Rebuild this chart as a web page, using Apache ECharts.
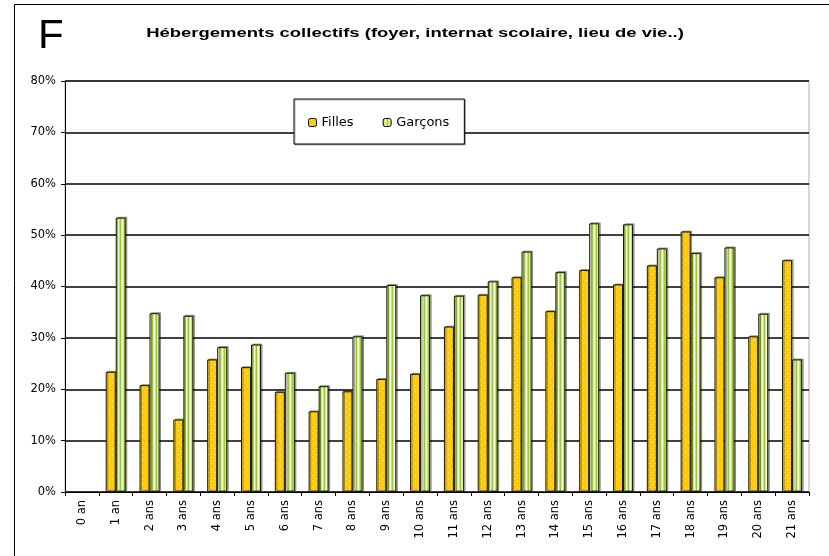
<!DOCTYPE html>
<html>
<head>
<meta charset="utf-8">
<script src="https://cdn.jsdelivr.net/npm/echarts@6/dist/echarts.min.js"></script>
<style>
  html, body {margin: 0; padding: 0; background: #fff;}
  #chart {width: 829px; height: 556px;}
</style>
</head>
<body>
<div id="chart"></div>
<script>
// tranches d'age
let ages = ['0 an', '1 an', '2 ans', '3 ans', '4 ans', '5 ans', '6 ans', '7 ans', '8 ans', '9 ans', '10 ans',
    '11 ans', '12 ans', '13 ans', '14 ans', '15 ans', '16 ans', '17 ans', '18 ans', '19 ans', '20 ans', '21 ans'];
// % filles / garcons
let filles = [null, 23.4, 20.8, 14.1, 25.8, 24.3, 19.5, 15.7, 19.6, 22.0, 23.0,
    32.2, 38.4, 41.8, 35.2, 43.2, 40.4, 44.1, 50.7, 41.8, 30.3, 45.1];
let garcons = [null, 53.4, 34.8, 34.3, 28.2, 28.7, 23.2, 20.6, 30.3, 40.3, 38.3,
    38.2, 41.0, 46.8, 42.8, 52.3, 52.1, 47.4, 46.5, 47.6, 34.7, 25.8];
let yTicks = [0, 80, 10]; // min, max, pas

// motif points blancs sur jaune
function dotPattern() {
    let c = document.createElement('canvas');
    c.width = 6;
    c.height = 6;
    let ctx = c.getContext('2d');
    ctx.fillStyle = '#FFCC00';
    ctx.fillRect(0, 0, 6, 6);
    ctx.fillStyle = '#FFF3B0';
    ctx.fillRect(1, 1, 1, 1);
    ctx.fillRect(4, 4, 1, 1);
    return c;
}
// motif rayures vertes
function stripePattern() {
    let c = document.createElement('canvas');
    c.width = 4;
    c.height = 4;
    let ctx = c.getContext('2d');
    let cols = ['#99CC33', '#D8F08A', '#F8FFE0', '#C4E46A'];
    for (let i = 0; i < 4; i++) {
        ctx.fillStyle = cols[i];
        ctx.fillRect(i, 0, 1, 4);
    }
    return c;
}

let myChart = echarts.init(document.getElementById('chart'), null, {renderer: 'canvas'});
let font = 'Liberation Sans, Arial, sans-serif';
let labelFont = 'DejaVu Sans, sans-serif';

myChart.setOption({
    animation: false,
    textStyle: {fontFamily: labelFont},
    graphic: [
        {
            type: 'rect',
            shape: {x: 14.5, y: 4.5, width: 900, height: 700},
            style: {fill: 'none', stroke: '#000', lineWidth: 1},
            silent: true
        },
        {
            type: 'text',
            x: 38,
            y: 17,
            scaleX: 1.05,
            style: {text: 'F', font: '40px ' + font, fill: '#000'}
        },
        {
            type: 'text',
            x: 415,
            y: 33,
            scaleX: 1.42,
            style: {
                text: 'Hébergements collectifs (foyer, internat scolaire, lieu de vie..)',
                font: 'bold 13px ' + font,
                fill: '#000',
                align: 'center',
                verticalAlign: 'middle'
            }
        }
    ],
    legend: {
        left: 294,
        top: 99,
        orient: 'horizontal',
        itemWidth: 8,
        itemHeight: 8,
        itemGap: 29,
        padding: [17, 15, 15, 14],
        backgroundColor: '#fff',
        borderColor: '#000',
        borderWidth: 1,
        shadowColor: 'rgba(0,0,0,0.3)',
        shadowOffsetX: 1,
        shadowOffsetY: 1,
        textStyle: {fontSize: 13, color: '#000', fontFamily: labelFont},
        itemStyle: {borderColor: '#000', borderWidth: 1},
        data: ['Filles', 'Garçons']
    },
    grid: {
        left: 65,
        right: 20,
        top: 81,
        bottom: 64,
        show: true,
        borderColor: '#b0b0b0',
        borderWidth: 1,
        backgroundColor: 'transparent'
    },
    xAxis: {
        type: 'category',
        data: ages,
        axisLine: {lineStyle: {color: '#000', width: 1}},
        axisTick: {show: true, length: 4, lineStyle: {color: '#000'}},
        axisLabel: {rotate: 90, fontSize: 11.5, color: '#000', margin: 8, fontFamily: labelFont}
    },
    yAxis: {
        type: 'value',
        min: yTicks[0],
        max: yTicks[1],
        interval: yTicks[2],
        axisLine: {show: true, lineStyle: {color: '#000', width: 1}},
        axisTick: {show: true, length: 4, lineStyle: {color: '#000'}},
        axisLabel: {formatter: '{value}%', fontSize: 11.5, color: '#000', margin: 9, fontFamily: labelFont},
        splitLine: {lineStyle: {color: '#000', width: 1.5}}
    },
    series: [
        {
            name: 'Filles',
            type: 'bar',
            data: filles,
            barWidth: 10,
            barGap: '0%',
            itemStyle: {
                color: {image: dotPattern(), repeat: 'repeat'},
                borderColor: '#1a1a00',
                borderWidth: 1,
                shadowColor: 'rgba(0,0,0,0.35)',
                shadowOffsetX: 1.5,
                shadowOffsetY: -1
            }
        },
        {
            name: 'Garçons',
            type: 'bar',
            data: garcons,
            barWidth: 10,
            itemStyle: {
                color: {image: stripePattern(), repeat: 'repeat'},
                borderColor: '#1a1a00',
                borderWidth: 1,
                shadowColor: 'rgba(0,0,0,0.35)',
                shadowOffsetX: 1.5,
                shadowOffsetY: -1
            }
        }
    ]
});
</script>
</body>
</html>
